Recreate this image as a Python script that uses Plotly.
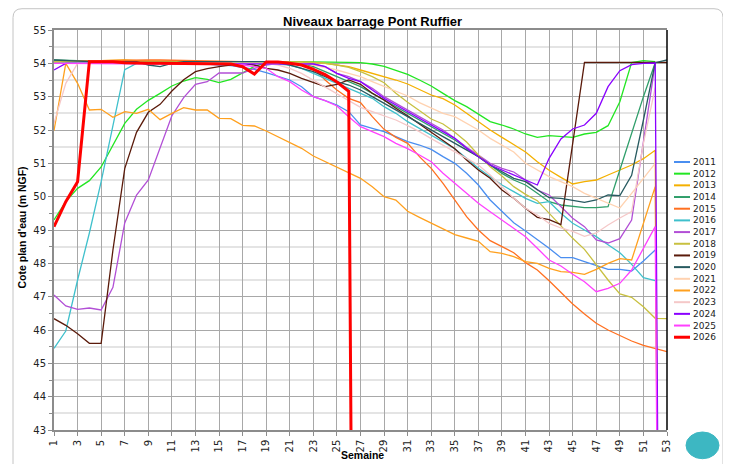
import plotly.graph_objects as go

# ---------------- data ----------------
weeks = list(range(1, 54))
tick_weeks = [1, 3, 5, 7, 9, 11, 13, 15, 17, 19, 21, 23, 25, 27, 29, 31, 33, 35, 37,
              39, 41, 43, 45, 47, 49, 51, 53]
years = ["2011", "2012", "2013", "2014", "2015", "2016", "2017", "2018",
         "2019", "2020", "2021", "2022", "2023", "2024", "2025", "2026"]
colors = ["#4a8ef0", "#22e622", "#f4b000", "#2f9e6a", "#ff7020", "#3fc0cc",
          "#b24fd6", "#c8c040", "#5a1a0a", "#275a60", "#ffd2b0", "#ffa01e",
          "#f5c8c8", "#8a00ff", "#ff40ff", "#ff0000"]

s2011 = [54.02, 54.02, 54.03, 54.03, 54.03, 54.03, 54.02, 54.02, 54.02, 54.0,
         54.0, 54.0, 54.0, 53.98, 53.95, 53.93, 53.88, 53.82, 53.72, 53.6,
         53.5, 53.3, 53.0, 52.88, 52.75, 52.55, 52.15, 52.05, 51.95, 51.8,
         51.65, 51.55, 51.42, 51.2, 51.0, 50.7, 50.35, 49.9, 49.55, 49.22,
         48.97, 48.72, 48.45, 48.17, 48.17, 48.05, 47.93, 47.82, 47.82, 47.77,
         48.07, 48.4, None]
s2012 = [49.3, 49.85, 50.25, 50.48, 50.89, 51.53, 52.2, 52.62, 52.89, 53.1,
         53.32, 53.47, 53.57, 53.52, 53.42, 53.52, 53.71, 53.91, 54.02, 54.05,
         54.05, 54.05, 54.05, 54.05, 54.05, 54.03, 54.02, 53.98, 53.91, 53.8,
         53.67, 53.5, 53.32, 53.1, 52.88, 52.7, 52.48, 52.25, 52.15, 52.03,
         51.88, 51.78, 51.83, 51.8, 51.78, 51.88, 51.93, 52.13, 52.85, 54.02,
         54.08, 54.05, None]
s2013 = [54.05, 54.05, 54.06, 54.07, 54.08, 54.1, 54.1, 54.08, 54.07, 54.06,
         54.05, 54.05, 54.05, 54.04, 54.04, 54.04, 54.04, 54.04, 54.04, 54.04,
         54.04, 54.04, 54.03, 54.0, 53.96, 53.9, 53.8, 53.7, 53.62, 53.5,
         53.38, 53.22, 53.05, 52.94, 52.75, 52.5, 52.25, 52.0, 51.78, 51.55,
         51.34, 51.05, 50.79, 50.58, 50.38, 50.45, 50.5, 50.65, 50.79, 50.95,
         51.14, 51.39, 0]
s2014 = [54.1, 54.1, 54.08, 54.07, 54.06, 54.05, 54.05, 54.05, 54.05, 54.05,
         54.05, 54.05, 54.05, 54.05, 54.05, 54.05, 54.05, 54.05, 54.05, 54.04,
         54.03, 54.0, 53.9, 53.75, 53.6, 53.45, 53.3, 53.1, 52.9, 52.7,
         52.5, 52.3, 52.1, 51.9, 51.7, 51.45, 51.2, 50.95, 50.7, 50.5,
         50.35, 50.1, 49.85, 49.75, 49.7, 49.67, 49.67, 49.7, 50.8, 51.9,
         53.0, 54.02, None]
s2015 = [54.05, 54.05, 54.06, 54.07, 54.08, 54.09, 54.1, 54.1, 54.1, 54.1,
         54.09, 54.08, 54.07, 54.06, 54.05, 54.05, 54.05, 54.05, 54.05, 54.05,
         54.03, 53.98, 53.85, 53.5, 53.2, 52.95, 52.82, 52.4, 52.02, 51.78,
         51.6, 51.2, 50.85, 50.4, 49.9, 49.4, 49.0, 48.68, 48.5, 48.32,
         48.02, 47.8, 47.48, 47.13, 46.78, 46.48, 46.2, 46.0, 45.83, 45.67,
         45.54, 45.45, 45.35]
s2016 = [45.45, 45.97, 47.5, 48.91, 50.45, 52.1, 53.81, 54.0, 54.02, 54.02,
         54.02, 54.02, 54.02, 54.02, 54.02, 54.02, 54.02, 54.0, 54.0, 53.98,
         53.95, 53.85, 53.7, 53.55, 53.4, 53.25, 53.1, 52.95, 52.7, 52.5,
         52.25, 52.05, 51.84, 51.65, 51.44, 51.15, 50.85, 50.6, 50.35, 50.15,
         49.95, 49.8, 49.85, 49.5, 49.2, 49.0, 48.8, 48.56, 48.32, 47.97,
         47.57, 47.48, None]
s2017 = [47.05, 46.72, 46.62, 46.66, 46.6, 47.28, 49.21, 50.05, 50.5, 51.44,
         52.43, 52.97, 53.37, 53.45, 53.71, 53.71, 53.71, 53.85, 53.95, 54.0,
         54.0, 54.0, 53.98, 53.9, 53.7, 53.6, 53.45, 53.25, 53.0, 52.8,
         52.6, 52.4, 52.2, 52.0, 51.75, 51.48, 51.25, 51.0, 50.85, 50.74,
         50.5, 50.2, 50.05, 49.7, 49.35, 49.1, 48.7, 48.61, 48.74, 49.3,
         51.6, 54.0, None]
s2018 = [54.05, 54.05, 54.05, 54.05, 54.05, 54.05, 54.05, 54.05, 54.05, 54.05,
         54.05, 54.05, 54.05, 54.05, 54.05, 54.05, 54.05, 54.05, 54.05, 54.05,
         54.04, 54.04, 54.02, 54.0, 53.95, 53.88, 53.75, 53.6, 53.42, 53.1,
         52.83, 52.58, 52.33, 52.18, 51.93, 51.64, 51.25, 50.9, 50.62, 50.3,
         50.07, 49.88, 49.5, 49.1, 48.75, 48.42, 47.95, 47.5, 47.08, 46.98,
         46.7, 46.35, 46.34]
s2019 = [46.34, 46.14, 45.89, 45.6, 45.6, 48.4, 50.84, 51.93, 52.53, 52.77,
         53.17, 53.51, 53.75, 53.84, 53.9, 53.95, 54.0, 53.95, 53.85, 53.8,
         53.7, 53.55, 53.42, 53.3, 53.37, 53.5, 53.37, 53.1, 52.9, 52.65,
         52.43, 52.18, 51.93, 51.68, 51.44, 51.1, 50.8, 50.55, 50.2, 49.95,
         49.65, 49.38, 49.31, 49.16, 51.6, 54.03, 54.03, 54.03, 54.03, 54.03,
         54.03, 54.03, 54.03]
s2020 = [54.1, 54.08, 54.05, 54.05, 54.05, 54.05, 54.05, 54.05, 53.95, 53.9,
         54.0, 54.05, 54.05, 54.05, 54.05, 54.05, 54.05, 54.05, 54.05, 54.02,
         53.95, 53.85, 53.75, 53.6, 53.45, 53.35, 53.2, 53.0, 52.8, 52.6,
         52.42, 52.22, 52.02, 51.82, 51.62, 51.42, 51.2, 50.95, 50.75, 50.55,
         50.45, 50.2, 49.97, 49.95, 49.9, 49.83, 49.9, 50.05, 50.03, 50.64,
         52.3, 54.02, 54.1]
s2021 = [54.0, 54.0, 54.0, 54.0, 54.0, 54.0, 54.0, 54.0, 54.0, 54.0,
         54.0, 54.0, 54.0, 54.0, 54.0, 54.0, 54.0, 54.0, 54.0, 54.0,
         54.0, 54.0, 53.95, 53.88, 53.8, 53.7, 53.6, 53.45, 53.3, 53.15,
         53.02, 52.82, 52.65, 52.5, 52.4, 52.2, 52.0, 51.75, 51.55, 51.34,
         51.0, 50.8, 50.6, 50.45, 50.3, 50.1, 49.95, 49.8, 49.66, 50.1,
         50.55, 51.0, None]
s2022 = [51.98, 54.0, 53.4, 52.6, 52.62, 52.38, 52.55, 52.5, 52.62, 52.31,
         52.5, 52.67, 52.6, 52.6, 52.35, 52.34, 52.14, 52.12, 51.97, 51.8,
         51.62, 51.45, 51.22, 51.05, 50.87, 50.7, 50.55, 50.3, 50.0, 49.9,
         49.56, 49.38, 49.2, 49.03, 48.86, 48.76, 48.66, 48.35, 48.3, 48.2,
         48.05, 48.0, 47.85, 47.75, 47.73, 47.67, 47.82, 48.0, 48.14, 48.1,
         49.2, 50.3, 0]
s2023 = [52.2, 53.4, 54.0, 54.0, 54.0, 54.0, 54.0, 54.0, 54.0, 54.0,
         54.0, 54.0, 54.0, 54.0, 54.0, 54.0, 54.0, 54.0, 54.0, 53.95,
         53.85, 53.7, 53.5, 53.3, 53.1, 52.9, 52.68, 52.55, 52.43, 52.3,
         52.13, 51.95, 51.74, 51.55, 51.34, 51.15, 50.95, 50.65, 50.3, 49.95,
         49.65, 49.45, 49.2, 49.06, 48.96, 48.81, 48.91, 49.15, 49.36, 49.55,
         51.6, 53.27, None]
s2024 = [53.8, 54.0, 54.0, 54.0, 54.0, 54.0, 54.0, 54.0, 54.0, 54.0,
         54.0, 54.0, 54.0, 54.0, 54.0, 54.0, 54.0, 54.0, 54.0, 54.0,
         54.0, 54.0, 53.98, 53.9, 53.7, 53.55, 53.45, 53.2, 52.95, 52.75,
         52.55, 52.35, 52.15, 51.95, 51.75, 51.45, 51.2, 50.95, 50.8, 50.64,
         50.5, 50.35, 51.15, 51.73, 52.03, 52.15, 52.5, 53.3, 53.78, 53.96,
         54.0, 54.01, 0]
s2025 = [54.0, 54.0, 54.0, 54.0, 54.0, 54.0, 54.0, 54.0, 54.0, 54.0,
         54.0, 54.0, 54.0, 54.0, 54.0, 53.98, 53.95, 53.9, 53.85, 53.6,
         53.45, 53.2, 53.0, 52.88, 52.72, 52.4, 52.1, 51.95, 51.8, 51.6,
         51.44, 51.25, 51.05, 50.7, 50.4, 50.1, 49.8, 49.55, 49.3, 49.05,
         48.8, 48.45, 48.1, 47.92, 47.67, 47.45, 47.15, 47.25, 47.4, 47.8,
         48.45, 49.1, 0]
s2026 = [49.1, 49.85, 50.45, 54.05, 54.05, 54.05, 54.02, 54.0, 54.0, 54.0,
         54.0, 54.0, 54.0, 54.0, 54.0, 53.98, 53.9, 53.68, 54.04, 54.04,
         54.0, 53.95, 53.82, 53.66, 53.44, 53.16, 0, None, None, None,
         None, None, None, None, None, None, None, None, None, None,
         None, None, None, None, None, None, None, None, None, None,
         None, None, None]

series = [s2011, s2012, s2013, s2014, s2015, s2016, s2017, s2018,
          s2019, s2020, s2021, s2022, s2023, s2024, s2025, s2026]

# ---------------- figure geometry ----------------
# the page body has an 8 px margin, so the figure is placed at (8, 8)
OFF = 8
PAGE_L, PAGE_T = 54, 30          # plot area top-left in page pixels
PW, PH = 613, 404                # plot area size
W, H = 731 - OFF, 464 - OFF
L, T = PAGE_L - OFF, PAGE_T - OFF
R, B = W - L - PW, H - T - PH


def fx(px):
    """page x pixel -> paper x"""
    return (px - PAGE_L) / PW


def fy(py):
    """page y pixel -> paper y"""
    return (PAGE_T + PH - py) / PH


fig = go.Figure()
for name, col, vals in zip(years, colors, series):
    fig.add_trace(go.Scatter(
        x=weeks, y=vals, mode="lines", name=name,
        line=dict(color=col, width=3 if name == "2026" else 1.3),
        connectgaps=False, showlegend=False, hoverinfo="x+y+name"))

shapes = []
annotations = []

# right plot border (black)
shapes.append(dict(type="line", xref="paper", yref="paper", x0=1, x1=1, y0=0, y1=1,
                   line=dict(color="#000000", width=1.5), layer="above"))

# outer rounded frame
x0, x1, yt, yb = fx(13), fx(723), fy(8.5), fy(472)
rx, ry = 9 / PW, 9 / PH
frame = (f"M {x0},{yb} L {x0},{yt - ry} Q {x0},{yt} {x0 + rx},{yt} "
         f"L {x1 - rx},{yt} Q {x1},{yt} {x1},{yt - ry} L {x1},{yb}")
shapes.append(dict(type="path", xref="paper", yref="paper", path=frame,
                   line=dict(color="#c4c4c4", width=1)))
# logo blob
shapes.append(dict(type="circle", xref="paper", yref="paper",
                   x0=fx(686), x1=fx(719), y0=fy(463), y1=fy(436),
                   fillcolor="#3db7c2", line=dict(color="#3db7c2", width=1)))

# custom legend
for i, (name, col) in enumerate(zip(years, colors)):
    ypx = 163.3 + i * 11.8
    shapes.append(dict(type="line", xref="paper", yref="paper",
                       x0=fx(674), x1=fx(690), y0=fy(ypx), y1=fy(ypx),
                       line=dict(color=col, width=3 if name == "2026" else 2)))
    annotations.append(dict(xref="paper", yref="paper", x=fx(691), y=fy(ypx),
                            xanchor="left", yanchor="middle", showarrow=False,
                            text=name, font=dict(family="DejaVu Sans", size=9, color="#222222")))

# title and axis titles
annotations.append(dict(xref="paper", yref="paper", x=fx(372), y=fy(21),
                        xanchor="center", yanchor="middle", showarrow=False,
                        text="<b>Niveaux barrage Pont Ruffier</b>",
                        font=dict(family="Liberation Sans", size=13, color="#000000")))
annotations.append(dict(xref="paper", yref="paper", x=fx(22.5), y=fy(230),
                        xanchor="center", yanchor="middle", showarrow=False, textangle=-90,
                        text="<b>Cote plan d'eau (m NGF)</b>",
                        font=dict(family="Liberation Sans", size=10.5, color="#000000")))
annotations.append(dict(xref="paper", yref="paper", x=fx(362), y=fy(451),
                        xanchor="center", yanchor="top", showarrow=False,
                        text="<b>Semaine</b>",
                        font=dict(family="Liberation Sans", size=10.5, color="#000000")))

fig.update_layout(
    width=W, height=H, autosize=False,
    margin=dict(l=L, r=R, t=T, b=B, pad=0),
    paper_bgcolor="#ffffff", plot_bgcolor="#ffffff",
    showlegend=False,
    shapes=shapes, annotations=annotations,
    xaxis=dict(
        range=[1, 53], tickmode="array", tickvals=tick_weeks,
        ticktext=[str(w) for w in tick_weeks], tickangle=-90,
        tickfont=dict(family="DejaVu Sans", size=10, color="#222222"),
        showgrid=True, gridcolor="#a8a8a8", gridwidth=1,
        showline=True, linecolor="#8c8c8c", linewidth=1.5, mirror=True,
        ticks="outside", ticklen=4, tickcolor="#8c8c8c", zeroline=False,
    ),
    yaxis=dict(
        range=[43, 55], tickmode="linear", tick0=43, dtick=1,
        tickfont=dict(family="DejaVu Sans", size=10, color="#222222"),
        showgrid=True, gridcolor="#a8a8a8", gridwidth=1,
        showline=True, linecolor="#8c8c8c", linewidth=2,
        ticks="outside", ticklen=4, tickcolor="#8c8c8c", zeroline=False,
        minor=dict(dtick=0.5, showgrid=True, gridcolor="#e4e4e4", gridwidth=2,
                   ticks="outside", ticklen=3, tickcolor="#8c8c8c"),
    ),
)

fig.write_html("out.html")
